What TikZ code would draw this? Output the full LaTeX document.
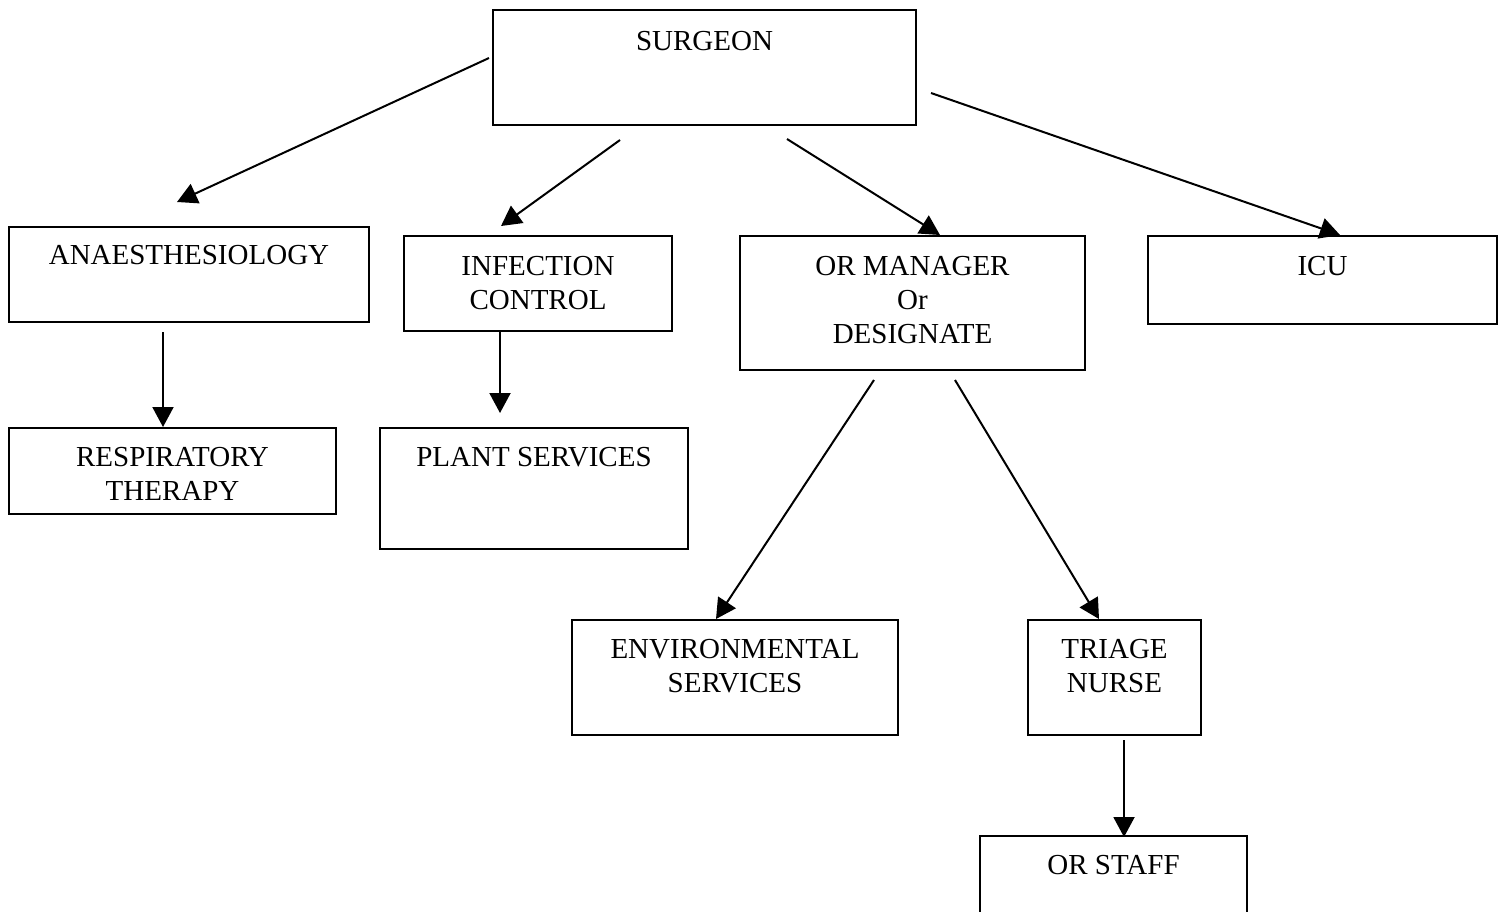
\documentclass[tikz,border=0pt]{standalone}
\usepackage{fontspec}
\setmainfont{Liberation Serif}
\usetikzlibrary{arrows.meta,positioning}

\begin{document}
\begin{tikzpicture}[x=0.5pt,y=-0.5pt,
    orgbox/.style={rectangle, draw=black, line width=1pt, inner sep=0pt},
    boxtext/.style={inner sep=0pt, align=center,
                    font=\fontsize{14.5}{17}\selectfont},
    link/.style={line width=1pt, -{Triangle[length=10pt,width=10.5pt]}},
]
\useasboundingbox (0,0) rectangle (1504,911);
\clip (0,0) rectangle (1504,911);

% boxes
\node[orgbox,minimum width=211.5pt,minimum height=57.5pt] (surgeon) at (704.5,67.5) {};
\node[orgbox,minimum width=180pt,minimum height=47.5pt] (anaes) at (189,274.5) {};
\node[orgbox,minimum width=134pt,minimum height=47.5pt] (infect) at (538,283.5) {};
\node[orgbox,minimum width=172.5pt,minimum height=67pt] (ormgr) at (912.5,303) {};
\node[orgbox,minimum width=174.5pt,minimum height=44pt] (icu) at (1322.5,280) {};
\node[orgbox,minimum width=163.5pt,minimum height=43pt] (resp) at (172.5,471) {};
\node[orgbox,minimum width=154pt,minimum height=60.5pt] (plant) at (534,488.5) {};
\node[orgbox,minimum width=163pt,minimum height=57.5pt] (env) at (735,677.5) {};
\node[orgbox,minimum width=86.5pt,minimum height=57.5pt] (triage) at (1114.5,677.5) {};
\node[orgbox,minimum width=133.5pt,minimum height=57.5pt] (orstaff) at (1113.5,893.5) {};

% texts
\node[boxtext,below=11pt of surgeon.north] (surgeon-txt) {SURGEON};
\node[boxtext,below=9.5pt of anaes.north] (anaes-txt) {ANAESTHESIOLOGY};
\node[boxtext,below=10.5pt of infect.north] (infect-txt) {INFECTION\\CONTROL};
\node[boxtext,below=10.5pt of ormgr.north] (ormgr-txt) {OR MANAGER\\Or\\DESIGNATE};
\node[boxtext,below=10.5pt of icu.north] (icu-txt) {ICU};
\node[boxtext,below=10pt of resp.north] (resp-txt) {RESPIRATORY\\THERAPY};
\node[boxtext,below=10pt of plant.north] (plant-txt) {PLANT SERVICES};
\node[boxtext,below=10pt of env.north] (env-txt) {ENVIRONMENTAL\\SERVICES};
\node[boxtext,below=10pt of triage.north] (triage-txt) {TRIAGE\\NURSE};
\node[boxtext,below=10pt of orstaff.north] (orstaff-txt) {OR STAFF};

% loose arrow ends
\coordinate (surgeon-w) at (489,58);
\coordinate (surgeon-sw) at (620,140);
\coordinate (surgeon-se) at (787,139);
\coordinate (surgeon-e) at (931,93);
\coordinate (anaes-in) at (177,202);
\coordinate (infect-in) at (501,226);
\coordinate (ormgr-in) at (940,235);
\coordinate (icu-in) at (1340,235);
\coordinate (anaes-out) at (163,332);
\coordinate (resp-in) at (163,427);
\coordinate (infect-out) at (500,332);
\coordinate (plant-in) at (500,413);
\coordinate (ormgr-sw) at (874,380);
\coordinate (ormgr-se) at (955,380);
\coordinate (env-in) at (716,619);
\coordinate (triage-in) at (1099,619);
\coordinate (triage-out) at (1124,740);
\coordinate (orstaff-in) at (1124,837);

% arrows
\draw[link] (surgeon-w) -- (anaes-in);
\draw[link] (surgeon-sw) -- (infect-in);
\draw[link] (surgeon-se) -- (ormgr-in);
\draw[link] (surgeon-e) -- (icu-in);
\draw[link] (anaes-out) -- (resp-in);
\draw[link] (infect-out) -- (plant-in);
\draw[link] (ormgr-sw) -- (env-in);
\draw[link] (ormgr-se) -- (triage-in);
\draw[link] (triage-out) -- (orstaff-in);

\end{tikzpicture}
\end{document}
